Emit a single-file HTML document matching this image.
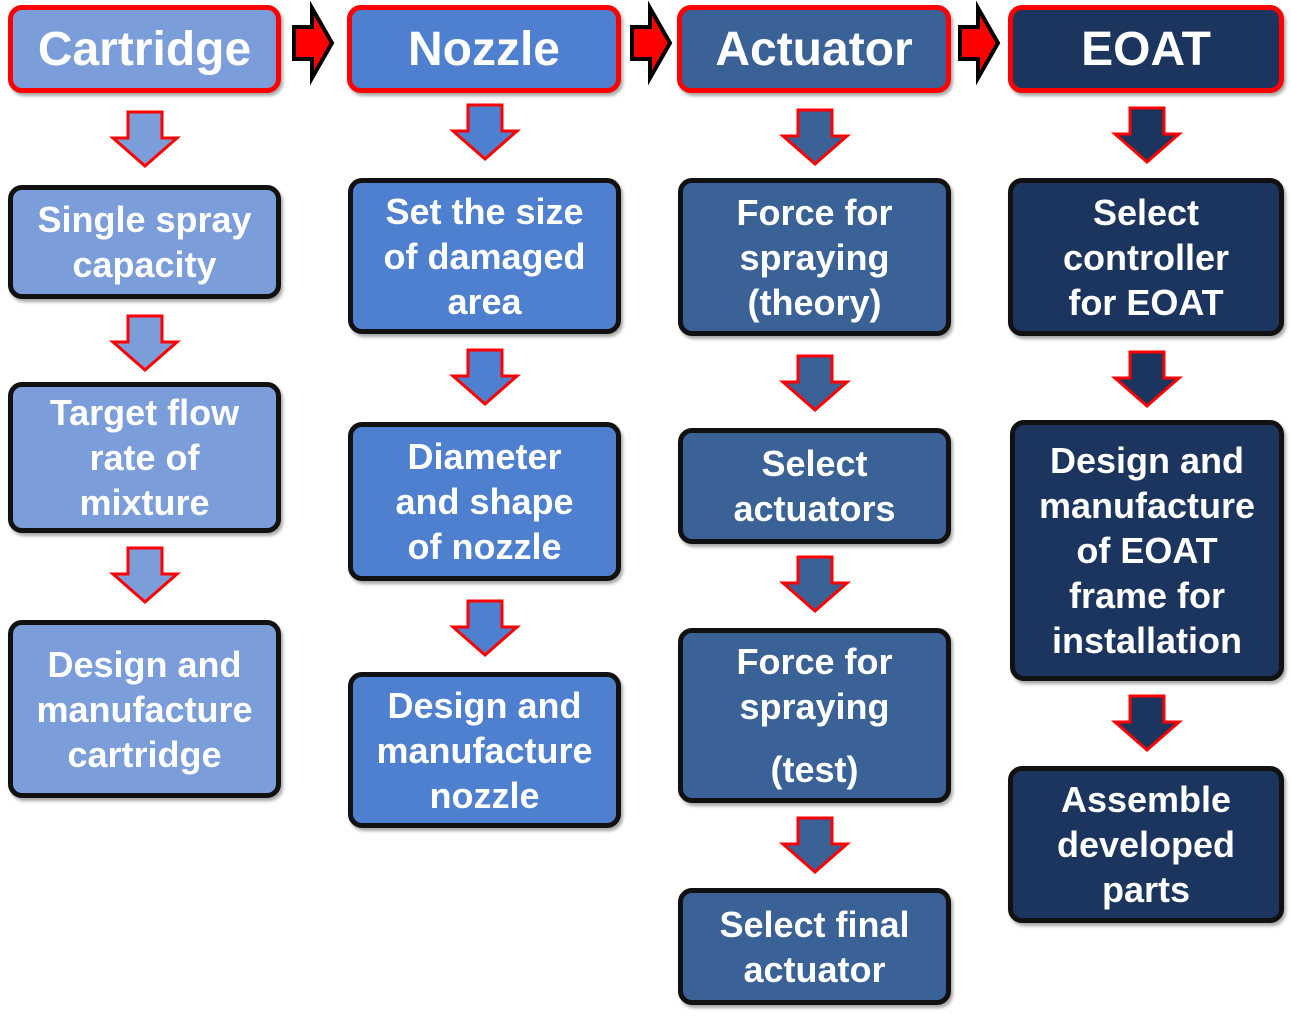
<!DOCTYPE html>
<html><head><style>
body{margin:0;width:1291px;height:1018px;background:#fff;position:relative;overflow:hidden;font-family:"Liberation Sans",sans-serif;}
.b{position:absolute;box-sizing:border-box;border:5px solid #111;border-radius:14px;color:#fff;font-weight:bold;display:flex;align-items:center;justify-content:center;text-align:center;font-size:36px;line-height:45px;box-shadow:2px 3px 3px rgba(0,0,0,.35);}
.h{border:5px solid #f00;font-size:48px;}
.c1{background:#7b9edb}.c2{background:#4f80cf}.c3{background:#3a6297}.c4{background:#1c355f}
svg{position:absolute;left:0;top:0}
</style></head><body>
<div class="b h c1" style="left:8px;top:5px;width:273px;height:88px"><div>Cartridge</div></div>
<div class="b h c2" style="left:347px;top:5px;width:274px;height:88px"><div>Nozzle</div></div>
<div class="b h c3" style="left:677px;top:5px;width:274px;height:88px"><div>Actuator</div></div>
<div class="b h c4" style="left:1008px;top:5px;width:276px;height:88px"><div>EOAT</div></div>

<div class="b c1" style="left:8px;top:185px;width:273px;height:114px"><div>Single spray<br>capacity</div></div>
<div class="b c1" style="left:8px;top:382px;width:273px;height:151px"><div>Target flow<br>rate of<br>mixture</div></div>
<div class="b c1" style="left:8px;top:620px;width:273px;height:178px"><div>Design and<br>manufacture<br>cartridge</div></div>

<div class="b c2" style="left:348px;top:178px;width:273px;height:156px"><div>Set the size<br>of damaged<br>area</div></div>
<div class="b c2" style="left:348px;top:422px;width:273px;height:159px"><div>Diameter<br>and shape<br>of nozzle</div></div>
<div class="b c2" style="left:348px;top:672px;width:273px;height:156px"><div>Design and<br>manufacture<br>nozzle</div></div>

<div class="b c3" style="left:678px;top:178px;width:273px;height:158px"><div>Force for<br>spraying<br>(theory)</div></div>
<div class="b c3" style="left:678px;top:428px;width:273px;height:116px"><div>Select<br>actuators</div></div>
<div class="b c3" style="left:678px;top:628px;width:273px;height:175px"><div>Force for<br>spraying<br><div style="margin-top:18px">(test)</div></div></div>
<div class="b c3" style="left:678px;top:888px;width:273px;height:117px"><div>Select final<br>actuator</div></div>

<div class="b c4" style="left:1008px;top:178px;width:276px;height:158px"><div>Select<br>controller<br>for EOAT</div></div>
<div class="b c4" style="left:1010px;top:420px;width:274px;height:261px"><div>Design and<br>manufacture<br>of EOAT<br>frame for<br>installation</div></div>
<div class="b c4" style="left:1008px;top:766px;width:276px;height:157px"><div>Assemble<br>developed<br>parts</div></div>

<svg width="1291" height="1018">
<defs>
<g id="d"><polygon points="-17,0 17,0 17,26 32,26 0,54 -32,26 -17,26" stroke="#f00" stroke-width="3" stroke-linejoin="miter"/></g>
<g id="r"><polygon points="0,17 18,17 18,-2 38,33 18,68 18,49 0,49" fill="#f00" stroke="#000" stroke-width="4"/></g>
</defs>
<use href="#r" x="294" y="10"/><use href="#r" x="632" y="10"/><use href="#r" x="960" y="10"/>
<g fill="#7b9edb"><use href="#d" x="145" y="112"/><use href="#d" x="145" y="316"/><use href="#d" x="145" y="548"/></g>
<g fill="#4f80cf"><use href="#d" x="485" y="105"/><use href="#d" x="485" y="350"/><use href="#d" x="485" y="601"/></g>
<g fill="#3a6297"><use href="#d" x="815" y="110"/><use href="#d" x="815" y="356"/><use href="#d" x="815" y="557"/><use href="#d" x="815" y="818"/></g>
<g fill="#1c355f"><use href="#d" x="1147" y="108"/><use href="#d" x="1147" y="352"/><use href="#d" x="1147" y="696"/></g>
</svg>
</body></html>
